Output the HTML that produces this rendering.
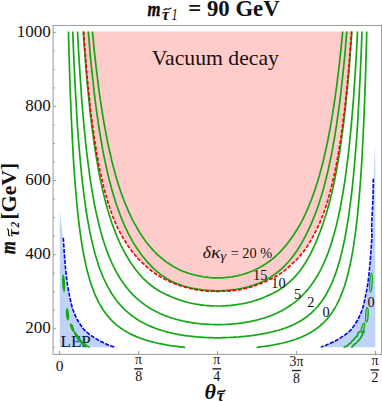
<!DOCTYPE html>
<html><head><meta charset="utf-8"><title>plot</title><style>html,body{margin:0;padding:0;background:#fff;width:382px;height:402px;overflow:hidden}body{position:relative;font-family:"Liberation Serif",serif}</style></head><body>
<svg width="382" height="402" viewBox="0 0 382 402" style="position:absolute;left:0;top:0;font-family:'Liberation Serif',serif">
<rect width="382" height="402" fill="#fff"/>
<path d="M83.6 31.5 L83.9 36.1 L84.3 41.5 L84.7 46.8 L85.1 51.9 L85.5 56.8 L85.8 61.6 L86.2 66.3 L86.6 70.8 L87.0 75.2 L87.4 79.4 L87.8 83.5 L88.2 87.5 L88.6 91.4 L89.0 95.2 L89.4 98.9 L89.7 102.5 L90.1 106.0 L90.5 109.4 L90.9 112.7 L91.3 115.9 L91.7 119.0 L92.1 122.1 L92.5 125.1 L92.9 128.0 L93.3 130.8 L93.7 133.6 L94.0 136.3 L94.4 138.9 L94.8 141.5 L95.2 144.0 L95.6 146.5 L96.0 148.9 L96.4 151.2 L96.8 153.5 L97.2 155.8 L97.6 158.0 L98.0 160.1 L98.3 162.2 L98.7 164.3 L99.1 166.3 L99.5 168.3 L99.9 170.2 L100.3 172.1 L100.7 174.0 L101.1 175.8 L101.5 177.6 L101.9 179.3 L102.3 181.0 L102.6 182.7 L103.0 184.3 L103.4 185.9 L103.8 187.5 L104.2 189.1 L104.6 190.6 L105.0 192.1 L105.4 193.5 L105.8 195.0 L106.2 196.3 L106.6 197.7 L106.9 199.0 L107.3 200.4 L107.7 201.6 L108.1 202.9 L108.5 204.2 L108.9 205.4 L109.3 206.6 L109.7 207.8 L110.1 208.9 L110.5 210.1 L110.9 211.2 L111.6 213.3 L112.4 215.5 L113.2 217.5 L114.0 219.5 L114.8 221.4 L115.5 223.2 L116.3 224.9 L117.1 226.6 L117.9 228.3 L118.7 229.9 L119.5 231.4 L120.2 232.9 L121.0 234.4 L121.8 235.8 L122.6 237.1 L123.4 238.5 L124.1 239.7 L124.9 241.0 L125.7 242.3 L126.5 243.5 L127.3 244.7 L128.0 245.9 L128.8 247.0 L129.6 248.1 L130.4 249.2 L131.2 250.3 L132.0 251.3 L132.7 252.3 L133.5 253.3 L134.3 254.2 L135.1 255.2 L135.9 256.1 L137.0 257.4 L138.2 258.7 L139.4 259.9 L140.6 261.1 L141.7 262.2 L142.9 263.3 L144.1 264.4 L145.2 265.4 L146.4 266.5 L147.6 267.6 L148.8 268.6 L149.9 269.6 L151.1 270.5 L152.3 271.5 L153.5 272.3 L154.6 273.2 L155.8 274.0 L157.0 274.8 L158.1 275.5 L159.3 276.2 L160.5 276.9 L161.7 277.6 L162.8 278.2 L164.0 278.8 L165.2 279.4 L166.3 280.0 L167.5 280.6 L168.7 281.1 L169.9 281.7 L171.0 282.2 L172.2 282.7 L173.4 283.2 L174.6 283.6 L175.7 284.1 L176.9 284.5 L178.1 284.9 L179.2 285.3 L180.4 285.7 L181.6 286.1 L182.8 286.5 L183.9 286.8 L185.1 287.2 L186.3 287.5 L187.5 287.8 L188.6 288.1 L190.2 288.5 L191.8 288.8 L193.3 289.2 L194.9 289.5 L196.4 289.8 L198.0 290.1 L199.6 290.3 L201.1 290.5 L202.7 290.7 L204.3 290.8 L205.8 291.0 L207.4 291.1 L208.9 291.2 L210.5 291.2 L212.1 291.3 L213.6 291.3 L215.2 291.4 L216.8 291.4 L217.5 291.4 L218.4 291.4 L220.0 291.4 L221.6 291.3 L223.2 291.3 L224.9 291.2 L226.5 291.2 L228.1 291.1 L229.7 291.0 L231.3 290.8 L233.0 290.7 L234.6 290.5 L236.2 290.3 L237.8 290.1 L239.5 289.8 L241.1 289.5 L242.7 289.2 L244.3 288.8 L245.9 288.5 L247.6 288.0 L248.8 287.7 L250.0 287.3 L251.2 286.9 L252.4 286.5 L253.6 286.1 L254.9 285.7 L256.1 285.3 L257.3 284.8 L258.5 284.4 L259.7 283.9 L260.9 283.4 L262.0 282.9 L263.2 282.5 L264.4 282.0 L265.6 281.5 L266.7 281.0 L267.9 280.4 L269.1 279.9 L270.3 279.3 L271.4 278.7 L272.6 278.1 L273.8 277.5 L274.9 276.9 L276.1 276.2 L277.3 275.5 L278.4 274.8 L279.6 274.1 L280.8 273.3 L281.9 272.5 L283.1 271.6 L284.2 270.8 L285.4 269.8 L286.5 268.9 L287.7 267.9 L288.8 266.9 L290.0 265.8 L291.1 264.7 L292.2 263.7 L293.4 262.7 L294.5 261.7 L295.6 260.6 L296.8 259.5 L297.9 258.3 L299.0 257.1 L300.1 255.8 L300.9 254.9 L301.6 254.0 L302.3 253.1 L303.1 252.2 L303.8 251.2 L304.6 250.2 L305.3 249.2 L306.0 248.1 L306.8 247.0 L307.5 245.9 L308.2 244.7 L309.0 243.5 L309.7 242.3 L310.4 241.0 L311.2 239.7 L311.9 238.5 L312.7 237.1 L313.4 235.8 L314.2 234.4 L314.9 232.9 L315.7 231.4 L316.4 229.9 L317.2 228.3 L318.0 226.6 L318.8 224.9 L319.6 223.2 L320.3 221.4 L321.1 219.5 L321.9 217.5 L322.7 215.5 L323.5 213.3 L324.2 211.2 L324.6 210.1 L325.0 208.9 L325.4 207.8 L325.8 206.6 L326.2 205.4 L326.6 204.2 L327.0 202.9 L327.4 201.6 L327.8 200.4 L328.2 199.0 L328.5 197.7 L328.9 196.3 L329.3 195.0 L329.7 193.5 L330.1 192.1 L330.5 190.6 L330.9 189.1 L331.3 187.5 L331.7 185.9 L332.1 184.3 L332.5 182.7 L332.8 181.0 L333.2 179.3 L333.6 177.6 L334.0 175.8 L334.4 174.0 L334.8 172.1 L335.2 170.2 L335.6 168.3 L336.0 166.3 L336.4 164.3 L336.8 162.2 L337.1 160.1 L337.5 158.0 L337.9 155.8 L338.3 153.5 L338.7 151.2 L339.1 148.9 L339.5 146.5 L339.9 144.0 L340.3 141.5 L340.7 138.9 L341.1 136.3 L341.4 133.6 L341.8 130.8 L342.2 128.0 L342.6 125.1 L343.0 122.1 L343.4 119.0 L343.8 115.9 L344.2 112.7 L344.6 109.4 L345.0 106.0 L345.4 102.5 L345.7 98.9 L346.1 95.2 L346.5 91.4 L346.9 87.5 L347.3 83.5 L347.7 79.4 L348.1 75.2 L348.5 70.8 L348.9 66.3 L349.3 61.6 L349.6 56.8 L350.0 51.9 L350.4 46.8 L350.8 41.5 L351.2 36.1 L351.5 31.5 Z" fill="#ffcccc"/>
<path d="M59.8 347.3 L59.8 211.0 L61.0 222.0 L62.3 232.0 L62.7 237.8 L63.8 255.0 L65.1 270.0 L66.9 285.0 L69.4 298.0 L72.5 310.1 L77.2 320.5 L83.1 329.2 L88.2 333.8 L93.7 337.6 L98.9 340.8 L104.2 343.3 L108.9 345.4 L113.7 347.1 L121.0 347.3 Z" fill="#bed2fa"/>
<path d="M375.3 347.3 L375.3 160.0 L374.8 143.5 L374.4 160.0 L373.9 178.7 L373.7 195.0 L373.0 210.0 L372.3 225.0 L372.4 237.8 L371.3 255.0 L370.0 270.0 L368.2 285.0 L365.7 298.0 L362.6 310.1 L357.9 320.5 L352.0 329.2 L346.9 333.8 L341.4 337.6 L336.2 340.8 L330.9 343.3 L326.2 345.4 L321.4 347.1 L314.0 347.3 Z" fill="#bed2fa"/>
<text x="60.6" y="346.6" font-size="17" fill="#0c1444">LEP</text>
<path d="M68.5 31.5 L68.6 38.2 L69.0 52.7 L69.4 66.0 L69.8 78.3 L70.2 89.7 L70.6 100.2 L71.0 110.1 L71.4 119.3 L71.8 127.8 L72.2 135.9 L72.6 143.4 L72.9 150.5 L73.3 157.2 L73.7 163.6 L74.1 169.5 L74.5 175.2 L74.9 180.6 L75.3 185.6 L75.7 190.5 L76.1 195.1 L76.5 199.5 L76.9 203.7 L77.2 207.7 L77.6 211.5 L78.0 215.1 L78.4 218.6 L78.8 222.0 L79.2 225.2 L79.6 228.3 L80.0 231.3 L80.4 234.1 L80.8 236.8 L81.2 239.5 L81.5 242.0 L81.9 244.5 L82.3 246.8 L82.7 249.1 L83.1 251.3 L83.5 253.5 L83.9 255.5 L84.3 257.5 L84.7 259.4 L85.1 261.3 L85.5 263.1 L85.8 264.9 L86.2 266.6 L86.6 268.2 L87.0 269.8 L87.4 271.4 L87.8 272.9 L88.2 274.3 L88.6 275.7 L89.0 277.1 L89.4 278.5 L89.7 279.8 L90.1 281.0 L90.5 282.3 L90.9 283.5 L91.3 284.7 L91.7 285.8 L92.5 288.0 L93.3 290.1 L94.0 292.1 L94.8 294.0 L95.6 295.8 L96.4 297.6 L97.2 299.2 L98.0 300.8 L98.7 302.3 L99.5 303.8 L100.3 305.2 L101.1 306.5 L101.9 307.8 L102.6 309.0 L103.4 310.2 L104.2 311.3 L105.0 312.4 L105.8 313.5 L106.6 314.5 L107.3 315.5 L108.1 316.4 L108.9 317.4 L110.1 318.7 L111.2 319.9 L112.4 321.1 L113.6 322.2 L114.8 323.3 L115.9 324.3 L117.1 325.3 L118.3 326.3 L119.5 327.1 L120.6 328.0 L121.8 328.8 L123.0 329.6 L124.1 330.4 L125.3 331.1 L126.5 331.8 L127.7 332.4 L128.8 333.1 L130.0 333.7 L131.2 334.3 L132.3 334.9 L133.5 335.4 L134.7 335.9 L135.9 336.4 L137.0 336.9 L138.2 337.4 L139.4 337.8 L140.6 338.3 L141.7 338.7 L142.9 339.1 L144.1 339.5 L145.2 339.9 L146.4 340.2 L147.6 340.6 L148.8 340.9 L149.9 341.3 L151.1 341.6 L152.3 341.9 L153.5 342.2 L154.6 342.5 L155.8 342.8 L157.0 343.0 L158.1 343.3 L159.7 343.6 L161.3 343.9 L162.8 344.2 L164.4 344.5 L166.0 344.8 L167.5 345.1 L169.1 345.3 L170.6 345.6 L172.2 345.8 L173.8 346.0 L175.3 346.2 L176.9 346.4 L178.5 346.6 L180.0 346.8 L181.6 346.9 L183.2 347.1 L184.7 347.3 L185.1 347.3" fill="none" stroke="#13a813" stroke-width="1.7" stroke-linejoin="round"/>
<path d="M256.6 347.3 L257.0 347.3 L258.6 347.1 L260.2 346.9 L261.7 346.7 L263.3 346.5 L264.8 346.3 L266.4 346.1 L268.0 345.8 L269.5 345.6 L271.1 345.3 L272.7 345.1 L274.2 344.8 L275.8 344.5 L277.4 344.2 L278.9 343.9 L280.5 343.5 L281.6 343.3 L282.8 343.0 L284.0 342.7 L285.2 342.4 L286.3 342.1 L287.5 341.8 L288.7 341.5 L289.9 341.1 L291.0 340.8 L292.2 340.4 L293.4 340.0 L294.5 339.7 L295.7 339.2 L296.9 338.8 L298.1 338.4 L299.2 337.9 L300.4 337.5 L301.6 337.0 L302.8 336.5 L303.9 335.9 L305.1 335.4 L306.3 334.8 L307.4 334.2 L308.6 333.6 L309.8 332.9 L311.0 332.3 L312.1 331.5 L313.3 330.8 L314.5 330.0 L315.6 329.2 L316.8 328.4 L318.0 327.5 L319.2 326.6 L320.3 325.6 L321.5 324.5 L322.7 323.5 L323.9 322.3 L325.0 321.1 L326.2 319.9 L327.4 318.6 L328.2 317.6 L328.9 316.7 L329.7 315.7 L330.5 314.6 L331.3 313.5 L332.1 312.4 L332.8 311.3 L333.6 310.0 L334.4 308.8 L335.2 307.4 L336.0 306.1 L336.8 304.6 L337.5 303.1 L338.3 301.5 L339.1 299.9 L339.9 298.2 L340.7 296.3 L341.4 294.4 L342.2 292.4 L343.0 290.3 L343.8 288.1 L344.2 287.0 L344.6 285.8 L345.0 284.5 L345.4 283.3 L345.7 282.0 L346.1 280.7 L346.5 279.3 L346.9 277.9 L347.3 276.5 L347.7 275.0 L348.1 273.5 L348.5 271.9 L348.9 270.2 L349.3 268.6 L349.6 266.8 L350.0 265.0 L350.4 263.2 L350.8 261.3 L351.2 259.3 L351.6 257.3 L352.0 255.2 L352.4 253.0 L352.8 250.7 L353.2 248.3 L353.6 245.9 L353.9 243.4 L354.3 240.8 L354.7 238.0 L355.1 235.2 L355.5 232.2 L355.9 229.1 L356.3 225.9 L356.7 222.6 L357.1 219.1 L357.5 215.4 L357.9 211.6 L358.2 207.6 L358.6 203.4 L359.0 199.1 L359.4 194.4 L359.8 189.6 L360.2 184.5 L360.6 179.1 L361.0 173.5 L361.4 167.5 L361.8 161.1 L362.2 154.4 L362.5 147.3 L362.9 139.7 L363.3 131.6 L363.7 123.0 L364.1 113.8 L364.5 103.9 L364.9 93.3 L365.3 81.8 L365.7 69.4 L366.1 56.0 L366.5 41.4 L366.7 31.5" fill="none" stroke="#13a813" stroke-width="1.7" stroke-linejoin="round"/>
<path d="M72.8 31.5 L72.9 36.3 L73.3 46.4 L73.7 55.8 L74.1 64.8 L74.5 73.3 L74.9 81.4 L75.3 89.0 L75.7 96.3 L76.1 103.2 L76.5 109.8 L76.9 116.1 L77.2 122.1 L77.6 127.9 L78.0 133.4 L78.4 138.6 L78.8 143.7 L79.2 148.5 L79.6 153.2 L80.0 157.7 L80.4 162.0 L80.8 166.1 L81.2 170.1 L81.5 173.9 L81.9 177.6 L82.3 181.2 L82.7 184.7 L83.1 188.0 L83.5 191.2 L83.9 194.3 L84.3 197.4 L84.7 200.3 L85.1 203.1 L85.5 205.8 L85.8 208.5 L86.2 211.1 L86.6 213.6 L87.0 216.0 L87.4 218.4 L87.8 220.7 L88.2 222.9 L88.6 225.0 L89.0 227.1 L89.4 229.2 L89.7 231.2 L90.1 233.1 L90.5 235.0 L90.9 236.9 L91.3 238.6 L91.7 240.4 L92.1 242.1 L92.5 243.8 L92.9 245.4 L93.3 247.0 L93.7 248.5 L94.0 250.0 L94.4 251.5 L94.8 252.9 L95.2 254.3 L95.6 255.7 L96.0 257.0 L96.4 258.3 L96.8 259.6 L97.2 260.9 L97.6 262.1 L98.0 263.3 L98.3 264.5 L98.7 265.6 L99.5 267.9 L100.3 270.0 L101.1 272.1 L101.9 274.0 L102.6 275.9 L103.4 277.8 L104.2 279.5 L105.0 281.2 L105.8 282.9 L106.6 284.4 L107.3 285.9 L108.1 287.4 L108.9 288.8 L109.7 290.2 L110.5 291.5 L111.2 292.8 L112.0 294.0 L112.8 295.2 L113.6 296.4 L114.4 297.5 L115.2 298.6 L115.9 299.7 L116.7 300.7 L117.5 301.7 L118.3 302.6 L119.1 303.6 L120.2 304.9 L121.4 306.2 L122.6 307.5 L123.7 308.6 L124.9 309.8 L126.1 310.9 L127.3 311.9 L128.4 312.9 L129.6 313.9 L130.8 314.8 L132.0 315.7 L133.1 316.6 L134.3 317.4 L135.5 318.2 L136.6 319.0 L137.8 319.8 L139.0 320.5 L140.2 321.2 L141.3 321.8 L142.5 322.5 L143.7 323.1 L144.9 323.7 L146.0 324.3 L147.2 324.8 L148.4 325.4 L149.5 325.9 L150.7 326.4 L151.9 326.9 L153.1 327.4 L154.2 327.8 L155.4 328.3 L156.6 328.7 L157.7 329.1 L158.9 329.5 L160.1 329.9 L161.3 330.3 L162.4 330.6 L163.6 331.0 L164.8 331.3 L166.0 331.6 L167.1 331.9 L168.3 332.2 L169.5 332.5 L170.6 332.8 L171.8 333.1 L173.0 333.3 L174.6 333.7 L176.1 334.0 L177.7 334.3 L179.2 334.6 L180.8 334.9 L182.4 335.1 L183.9 335.4 L185.5 335.6 L187.1 335.8 L188.6 336.0 L190.2 336.2 L191.8 336.4 L193.3 336.6 L194.9 336.7 L196.4 336.9 L198.0 337.0 L199.6 337.1 L201.1 337.2 L202.7 337.4 L204.3 337.4 L205.8 337.5 L207.4 337.6 L208.9 337.7 L210.5 337.7 L212.1 337.7 L213.6 337.8 L215.2 337.8 L216.8 337.8 L217.5 337.8 L218.7 337.8 L220.3 337.8 L221.9 337.7 L223.4 337.7 L225.0 337.7 L226.5 337.6 L228.1 337.5 L229.7 337.5 L231.2 337.4 L232.8 337.3 L234.4 337.2 L235.9 337.1 L237.5 337.0 L239.1 336.9 L240.6 336.7 L242.2 336.6 L243.7 336.5 L245.3 336.3 L246.9 336.1 L248.4 336.0 L250.0 335.8 L251.6 335.6 L253.1 335.4 L254.7 335.2 L256.2 334.9 L257.8 334.7 L259.4 334.5 L260.9 334.2 L262.5 333.9 L264.1 333.6 L265.6 333.3 L267.2 333.0 L268.8 332.7 L270.3 332.3 L271.5 332.0 L272.7 331.7 L273.8 331.4 L275.0 331.1 L276.2 330.8 L277.4 330.5 L278.5 330.2 L279.7 329.8 L280.9 329.5 L282.0 329.1 L283.2 328.7 L284.4 328.3 L285.6 327.9 L286.7 327.5 L287.9 327.0 L289.1 326.5 L290.2 326.1 L291.4 325.6 L292.6 325.0 L293.8 324.5 L294.9 323.9 L296.1 323.3 L297.3 322.7 L298.5 322.1 L299.6 321.4 L300.8 320.7 L302.0 320.0 L303.1 319.3 L304.3 318.5 L305.5 317.6 L306.7 316.8 L307.8 315.9 L309.0 314.9 L310.2 314.0 L311.4 312.9 L312.5 311.9 L313.7 310.7 L314.9 309.5 L316.0 308.3 L317.2 307.0 L318.0 306.1 L318.8 305.1 L319.6 304.1 L320.3 303.1 L321.1 302.1 L321.9 301.0 L322.7 299.9 L323.5 298.7 L324.2 297.5 L325.0 296.3 L325.8 295.0 L326.6 293.6 L327.4 292.2 L328.2 290.7 L328.9 289.2 L329.7 287.7 L330.5 286.0 L331.3 284.3 L332.1 282.5 L332.8 280.7 L333.6 278.7 L334.4 276.7 L335.2 274.6 L336.0 272.4 L336.4 271.2 L336.8 270.1 L337.1 268.9 L337.5 267.7 L337.9 266.4 L338.3 265.1 L338.7 263.8 L339.1 262.5 L339.5 261.1 L339.9 259.7 L340.3 258.2 L340.7 256.7 L341.1 255.2 L341.4 253.7 L341.8 252.1 L342.2 250.4 L342.6 248.7 L343.0 247.0 L343.4 245.2 L343.8 243.4 L344.2 241.5 L344.6 239.6 L345.0 237.6 L345.4 235.6 L345.7 233.5 L346.1 231.4 L346.5 229.2 L346.9 226.9 L347.3 224.5 L347.7 222.1 L348.1 219.6 L348.5 217.1 L348.9 214.4 L349.3 211.7 L349.6 208.8 L350.0 205.9 L350.4 202.9 L350.8 199.8 L351.2 196.6 L351.6 193.3 L352.0 189.8 L352.4 186.3 L352.8 182.6 L353.2 178.7 L353.6 174.7 L353.9 170.6 L354.3 166.3 L354.7 161.9 L355.1 157.3 L355.5 152.4 L355.9 147.4 L356.3 142.2 L356.7 136.7 L357.1 131.0 L357.5 125.1 L357.9 118.9 L358.2 112.4 L358.6 105.6 L359.0 98.4 L359.4 90.9 L359.8 83.0 L360.2 74.7 L360.6 66.0 L361.0 56.7 L361.4 47.0 L361.8 36.7 L361.9 31.5" fill="none" stroke="#13a813" stroke-width="1.7" stroke-linejoin="round"/>
<path d="M77.6 31.5 L77.6 32.9 L78.0 40.5 L78.4 47.8 L78.8 54.8 L79.2 61.5 L79.6 67.9 L80.0 74.1 L80.4 80.1 L80.8 85.8 L81.2 91.3 L81.5 96.6 L81.9 101.7 L82.3 106.7 L82.7 111.5 L83.1 116.1 L83.5 120.5 L83.9 124.8 L84.3 129.0 L84.7 133.1 L85.1 137.0 L85.5 140.8 L85.8 144.5 L86.2 148.0 L86.6 151.5 L87.0 154.8 L87.4 158.1 L87.8 161.3 L88.2 164.4 L88.6 167.4 L89.0 170.3 L89.4 173.1 L89.7 175.9 L90.1 178.6 L90.5 181.2 L90.9 183.7 L91.3 186.2 L91.7 188.7 L92.1 191.0 L92.5 193.3 L92.9 195.6 L93.3 197.8 L93.7 199.9 L94.0 202.0 L94.4 204.1 L94.8 206.1 L95.2 208.0 L95.6 209.9 L96.0 211.8 L96.4 213.6 L96.8 215.4 L97.2 217.1 L97.6 218.8 L98.0 220.5 L98.3 222.1 L98.7 223.7 L99.1 225.3 L99.5 226.9 L99.9 228.4 L100.3 229.8 L100.7 231.3 L101.1 232.7 L101.5 234.1 L101.9 235.4 L102.3 236.8 L102.6 238.1 L103.0 239.4 L103.4 240.6 L103.8 241.9 L104.2 243.1 L104.6 244.3 L105.0 245.4 L105.4 246.6 L106.2 248.8 L106.9 251.0 L107.7 253.1 L108.5 255.1 L109.3 257.0 L110.1 258.9 L110.9 260.7 L111.6 262.5 L112.4 264.2 L113.2 265.8 L114.0 267.4 L114.8 268.9 L115.5 270.4 L116.3 271.9 L117.1 273.3 L117.9 274.7 L118.7 276.0 L119.5 277.3 L120.2 278.5 L121.0 279.8 L121.8 280.9 L122.6 282.1 L123.4 283.2 L124.1 284.3 L124.9 285.3 L125.7 286.4 L126.5 287.4 L127.3 288.3 L128.0 289.3 L128.8 290.2 L130.0 291.6 L131.2 292.9 L132.3 294.1 L133.5 295.3 L134.7 296.4 L135.9 297.6 L137.0 298.6 L138.2 299.7 L139.4 300.7 L140.6 301.6 L141.7 302.5 L142.9 303.4 L144.1 304.3 L145.2 305.1 L146.4 305.9 L147.6 306.7 L148.8 307.5 L149.9 308.2 L151.1 308.9 L152.3 309.6 L153.5 310.2 L154.6 310.8 L155.8 311.5 L157.0 312.0 L158.1 312.6 L159.3 313.2 L160.5 313.7 L161.7 314.2 L162.8 314.7 L164.0 315.2 L165.2 315.7 L166.3 316.1 L167.5 316.5 L168.7 317.0 L169.9 317.4 L171.0 317.8 L172.2 318.1 L173.4 318.5 L174.6 318.8 L175.7 319.2 L176.9 319.5 L178.1 319.8 L179.2 320.1 L180.4 320.4 L181.6 320.7 L182.8 321.0 L183.9 321.2 L185.5 321.5 L187.1 321.8 L188.6 322.1 L190.2 322.4 L191.8 322.7 L193.3 322.9 L194.9 323.1 L196.4 323.3 L198.0 323.5 L199.6 323.7 L201.1 323.8 L202.7 324.0 L204.3 324.1 L205.8 324.2 L207.4 324.3 L208.9 324.4 L210.5 324.5 L212.1 324.5 L213.6 324.6 L215.2 324.6 L216.8 324.6 L217.5 324.6 L218.7 324.6 L220.3 324.6 L221.9 324.6 L223.4 324.5 L225.0 324.5 L226.5 324.4 L228.1 324.3 L229.7 324.2 L231.2 324.1 L232.8 324.0 L234.4 323.8 L235.9 323.7 L237.5 323.5 L239.1 323.3 L240.6 323.1 L242.2 322.9 L243.7 322.6 L245.3 322.4 L246.9 322.1 L248.4 321.8 L250.0 321.6 L251.6 321.2 L253.1 320.9 L254.3 320.6 L255.5 320.4 L256.6 320.1 L257.8 319.8 L259.0 319.5 L260.2 319.1 L261.3 318.8 L262.5 318.5 L263.7 318.1 L264.8 317.7 L266.0 317.4 L267.2 317.0 L268.4 316.5 L269.5 316.1 L270.7 315.7 L271.9 315.2 L273.1 314.7 L274.2 314.3 L275.4 313.7 L276.6 313.2 L277.7 312.7 L278.9 312.1 L280.1 311.5 L281.3 310.9 L282.4 310.3 L283.6 309.7 L284.8 309.0 L285.9 308.3 L287.1 307.6 L288.3 306.8 L289.5 306.1 L290.6 305.3 L291.8 304.4 L293.0 303.6 L294.2 302.7 L295.3 301.8 L296.5 300.8 L297.7 299.8 L298.8 298.8 L300.0 297.7 L301.2 296.6 L302.4 295.5 L303.5 294.3 L304.7 293.0 L305.9 291.7 L307.1 290.4 L307.8 289.5 L308.6 288.5 L309.4 287.5 L310.2 286.5 L311.0 285.5 L311.7 284.4 L312.5 283.3 L313.3 282.2 L314.1 281.0 L314.9 279.8 L315.6 278.6 L316.4 277.3 L317.2 276.0 L318.0 274.6 L318.8 273.2 L319.6 271.8 L320.3 270.3 L321.1 268.8 L321.9 267.2 L322.7 265.6 L323.5 263.9 L324.2 262.2 L325.0 260.4 L325.8 258.5 L326.6 256.6 L327.4 254.6 L328.2 252.5 L328.9 250.4 L329.7 248.1 L330.1 247.0 L330.5 245.8 L330.9 244.6 L331.3 243.4 L331.7 242.2 L332.1 240.9 L332.5 239.6 L332.8 238.3 L333.2 237.0 L333.6 235.6 L334.0 234.3 L334.4 232.8 L334.8 231.4 L335.2 229.9 L335.6 228.4 L336.0 226.9 L336.4 225.3 L336.8 223.7 L337.1 222.1 L337.5 220.4 L337.9 218.7 L338.3 216.9 L338.7 215.2 L339.1 213.3 L339.5 211.5 L339.9 209.5 L340.3 207.6 L340.7 205.6 L341.1 203.5 L341.4 201.4 L341.8 199.3 L342.2 197.1 L342.6 194.8 L343.0 192.5 L343.4 190.1 L343.8 187.7 L344.2 185.2 L344.6 182.6 L345.0 180.0 L345.4 177.3 L345.7 174.5 L346.1 171.7 L346.5 168.7 L346.9 165.7 L347.3 162.6 L347.7 159.4 L348.1 156.1 L348.5 152.7 L348.9 149.2 L349.3 145.6 L349.6 141.9 L350.0 138.1 L350.4 134.2 L350.8 130.1 L351.2 125.9 L351.6 121.5 L352.0 117.0 L352.4 112.4 L352.8 107.5 L353.2 102.6 L353.6 97.4 L353.9 92.0 L354.3 86.5 L354.7 80.7 L355.1 74.7 L355.5 68.4 L355.9 61.9 L356.3 55.2 L356.7 48.1 L357.1 40.7 L357.5 33.1 L357.5 31.5" fill="none" stroke="#13a813" stroke-width="1.7" stroke-linejoin="round"/>
<path d="M83.2 31.5 L83.5 35.2 L83.9 40.9 L84.3 46.3 L84.7 51.6 L85.1 56.8 L85.5 61.8 L85.8 66.6 L86.2 71.3 L86.6 75.8 L87.0 80.3 L87.4 84.6 L87.8 88.7 L88.2 92.8 L88.6 96.7 L89.0 100.6 L89.4 104.3 L89.7 107.9 L90.1 111.5 L90.5 114.9 L90.9 118.3 L91.3 121.5 L91.7 124.7 L92.1 127.9 L92.5 130.9 L92.9 133.9 L93.3 136.8 L93.7 139.6 L94.0 142.3 L94.4 145.0 L94.8 147.7 L95.2 150.2 L95.6 152.8 L96.0 155.2 L96.4 157.6 L96.8 160.0 L97.2 162.3 L97.6 164.5 L98.0 166.7 L98.3 168.9 L98.7 171.0 L99.1 173.1 L99.5 175.1 L99.9 177.1 L100.3 179.1 L100.7 181.0 L101.1 182.9 L101.5 184.7 L101.9 186.5 L102.3 188.3 L102.6 190.0 L103.0 191.7 L103.4 193.4 L103.8 195.0 L104.2 196.6 L104.6 198.2 L105.0 199.7 L105.4 201.3 L105.8 202.8 L106.2 204.2 L106.6 205.7 L106.9 207.1 L107.3 208.5 L107.7 209.8 L108.1 211.2 L108.5 212.5 L108.9 213.8 L109.3 215.1 L109.7 216.3 L110.1 217.6 L110.5 218.8 L110.9 220.0 L111.2 221.2 L111.6 222.3 L112.0 223.5 L112.8 225.7 L113.6 227.9 L114.4 229.9 L115.2 232.0 L115.9 233.9 L116.7 235.8 L117.5 237.7 L118.3 239.5 L119.1 241.2 L119.8 242.9 L120.6 244.6 L121.4 246.2 L122.2 247.7 L123.0 249.3 L123.7 250.7 L124.5 252.2 L125.3 253.6 L126.1 255.0 L126.9 256.3 L127.7 257.7 L128.4 259.0 L129.2 260.2 L130.0 261.5 L130.8 262.7 L131.6 263.9 L132.3 265.0 L133.1 266.1 L133.9 267.2 L134.7 268.3 L135.5 269.3 L136.3 270.4 L137.0 271.3 L137.8 272.3 L139.0 273.7 L140.2 275.1 L141.3 276.4 L142.5 277.6 L143.7 278.8 L144.9 279.9 L146.0 281.0 L147.2 282.1 L148.4 283.1 L149.5 284.1 L150.7 285.0 L151.9 286.0 L153.1 286.9 L154.2 287.7 L155.4 288.6 L156.6 289.3 L157.7 290.0 L158.9 290.7 L160.1 291.4 L161.3 292.0 L162.4 292.7 L163.6 293.3 L164.8 293.8 L166.0 294.4 L167.1 294.9 L168.3 295.4 L169.5 295.9 L170.6 296.4 L171.8 297.0 L173.0 297.5 L174.2 298.0 L175.3 298.4 L176.5 298.9 L177.7 299.3 L178.9 299.7 L180.0 300.1 L181.2 300.5 L182.4 300.9 L183.5 301.2 L184.7 301.6 L185.9 301.9 L187.1 302.2 L188.2 302.5 L189.4 302.8 L190.6 303.1 L191.8 303.3 L193.3 303.7 L194.9 304.0 L196.4 304.2 L198.0 304.5 L199.6 304.7 L201.1 304.9 L202.7 305.1 L204.3 305.3 L205.8 305.5 L207.4 305.6 L208.9 305.7 L210.5 305.8 L212.1 305.9 L213.6 306.0 L215.2 306.0 L216.8 306.0 L217.5 306.0 L218.4 306.0 L220.0 306.0 L221.6 306.0 L223.2 305.9 L224.9 305.8 L226.5 305.7 L228.1 305.6 L229.7 305.5 L231.3 305.3 L233.0 305.1 L234.6 304.9 L236.2 304.7 L237.8 304.5 L239.5 304.2 L241.1 304.0 L242.7 303.7 L244.3 303.3 L245.5 303.1 L246.8 302.8 L248.0 302.5 L249.2 302.2 L250.4 301.9 L251.6 301.6 L252.8 301.2 L254.0 300.9 L255.3 300.5 L256.5 300.1 L257.7 299.7 L258.9 299.3 L260.1 298.9 L261.3 298.4 L262.4 298.0 L263.6 297.5 L264.8 297.0 L266.0 296.4 L267.1 295.9 L268.3 295.4 L269.5 294.9 L270.6 294.4 L271.8 293.8 L273.0 293.3 L274.2 292.7 L275.3 292.0 L276.5 291.4 L277.7 290.7 L278.9 290.0 L280.0 289.3 L281.2 288.6 L282.4 287.7 L283.5 286.9 L284.7 286.0 L285.9 285.0 L287.1 284.1 L288.2 283.1 L289.4 282.1 L290.6 281.0 L291.7 279.9 L292.9 278.8 L294.1 277.6 L295.3 276.4 L296.4 275.1 L297.6 273.7 L298.7 272.3 L299.5 271.3 L300.3 270.4 L301.0 269.3 L301.8 268.3 L302.5 267.2 L303.3 266.1 L304.0 265.0 L304.7 263.9 L305.5 262.7 L306.2 261.5 L306.9 260.2 L307.7 259.0 L308.4 257.7 L309.1 256.3 L309.8 255.0 L310.6 253.6 L311.3 252.2 L312.0 250.7 L312.7 249.3 L313.4 247.7 L314.1 246.2 L314.9 244.6 L315.6 242.9 L316.3 241.2 L317.0 239.5 L317.8 237.7 L318.5 235.8 L319.2 233.9 L320.0 232.0 L320.7 229.9 L321.5 227.9 L322.3 225.7 L323.1 223.5 L323.5 222.3 L323.9 221.2 L324.2 220.0 L324.6 218.8 L325.0 217.6 L325.4 216.3 L325.8 215.1 L326.2 213.8 L326.6 212.5 L327.0 211.2 L327.4 209.8 L327.8 208.5 L328.2 207.1 L328.5 205.7 L328.9 204.2 L329.3 202.8 L329.7 201.3 L330.1 199.7 L330.5 198.2 L330.9 196.6 L331.3 195.0 L331.7 193.4 L332.1 191.7 L332.5 190.0 L332.8 188.3 L333.2 186.5 L333.6 184.7 L334.0 182.9 L334.4 181.0 L334.8 179.1 L335.2 177.1 L335.6 175.1 L336.0 173.1 L336.4 171.0 L336.8 168.9 L337.1 166.7 L337.5 164.5 L337.9 162.3 L338.3 160.0 L338.7 157.6 L339.1 155.2 L339.5 152.8 L339.9 150.2 L340.3 147.7 L340.7 145.0 L341.1 142.3 L341.4 139.6 L341.8 136.8 L342.2 133.9 L342.6 130.9 L343.0 127.9 L343.4 124.7 L343.8 121.5 L344.2 118.3 L344.6 114.9 L345.0 111.5 L345.4 107.9 L345.7 104.3 L346.1 100.6 L346.5 96.7 L346.9 92.8 L347.3 88.7 L347.7 84.6 L348.1 80.3 L348.5 75.8 L348.9 71.3 L349.3 66.6 L349.6 61.8 L350.0 56.8 L350.4 51.6 L350.8 46.3 L351.2 40.9 L351.6 35.2 L351.9 31.5" fill="none" stroke="#13a813" stroke-width="1.7" stroke-linejoin="round"/>
<path d="M88.3 31.5 L88.6 35.1 L89.0 39.8 L89.4 44.4 L89.7 48.8 L90.1 53.2 L90.5 57.4 L90.9 61.5 L91.3 65.5 L91.7 69.4 L92.1 73.2 L92.5 76.9 L92.9 80.5 L93.3 84.1 L93.7 87.5 L94.0 90.9 L94.4 94.2 L94.8 97.4 L95.2 100.6 L95.6 103.7 L96.0 106.7 L96.4 109.6 L96.8 112.5 L97.2 115.3 L97.6 118.1 L98.0 120.8 L98.3 123.4 L98.7 126.0 L99.1 128.5 L99.5 131.0 L99.9 133.4 L100.3 135.8 L100.7 138.2 L101.1 140.5 L101.5 142.7 L101.9 144.9 L102.3 147.1 L102.6 149.2 L103.0 151.3 L103.4 153.3 L103.8 155.3 L104.2 157.3 L104.6 159.2 L105.0 161.1 L105.4 163.0 L105.8 164.8 L106.2 166.6 L106.6 168.3 L106.9 170.1 L107.3 171.8 L107.7 173.5 L108.1 175.1 L108.5 176.7 L108.9 178.3 L109.3 179.9 L109.7 181.4 L110.1 182.9 L110.5 184.4 L110.9 185.9 L111.2 187.3 L111.6 188.7 L112.0 190.1 L112.4 191.5 L112.8 192.9 L113.2 194.2 L113.6 195.5 L114.0 196.8 L114.4 198.1 L114.8 199.3 L115.2 200.6 L115.5 201.8 L115.9 203.0 L116.3 204.2 L116.7 205.3 L117.1 206.5 L117.9 208.7 L118.7 210.9 L119.5 213.0 L120.2 215.1 L121.0 217.1 L121.8 219.1 L122.6 221.0 L123.4 222.8 L124.1 224.6 L124.9 226.3 L125.7 228.0 L126.5 229.7 L127.3 231.3 L128.0 232.9 L128.8 234.4 L129.6 235.9 L130.4 237.4 L131.2 238.8 L132.0 240.2 L132.7 241.6 L133.5 242.9 L134.3 244.2 L135.1 245.4 L135.9 246.7 L136.6 247.9 L137.4 249.1 L138.2 250.2 L139.0 251.3 L139.8 252.4 L140.6 253.5 L141.3 254.5 L142.1 255.6 L142.9 256.6 L143.7 257.5 L144.5 258.5 L145.6 259.9 L146.8 261.3 L148.0 262.6 L149.2 263.9 L150.3 265.2 L151.5 266.4 L152.7 267.6 L153.8 268.7 L155.0 269.7 L156.2 270.8 L157.4 271.8 L158.5 272.7 L159.7 273.7 L160.9 274.6 L162.0 275.4 L163.2 276.2 L164.4 277.0 L165.6 277.8 L166.7 278.6 L167.9 279.3 L169.1 280.0 L170.3 280.6 L171.4 281.2 L172.6 281.7 L173.8 282.3 L174.9 282.8 L176.1 283.3 L177.3 283.8 L178.5 284.2 L179.6 284.6 L180.8 285.1 L182.0 285.5 L183.2 285.8 L184.3 286.2 L185.5 286.5 L186.7 286.9 L187.8 287.2 L189.0 287.5 L190.2 287.7 L191.4 288.0 L192.5 288.3 L193.7 288.5 L194.9 288.7 L196.0 288.9 L197.6 289.2 L199.2 289.4 L200.7 289.6 L202.3 289.8 L203.9 290.0 L205.4 290.1 L207.0 290.3 L208.6 290.4 L210.1 290.5 L211.7 290.6 L213.2 290.7 L214.8 290.8 L216.4 290.8 L217.5 290.8 L218.8 290.8 L220.4 290.8 L222.0 290.7 L223.6 290.6 L225.3 290.5 L226.9 290.4 L228.5 290.3 L230.1 290.1 L231.7 289.9 L233.4 289.7 L235.0 289.5 L236.6 289.3 L238.2 289.0 L239.9 288.7 L241.1 288.5 L242.3 288.2 L243.5 287.9 L244.7 287.7 L245.9 287.4 L247.2 287.1 L248.4 286.7 L249.6 286.4 L250.8 286.0 L252.0 285.6 L253.2 285.2 L254.5 284.8 L255.7 284.4 L256.9 283.9 L258.1 283.5 L259.3 283.0 L260.5 282.5 L261.7 281.9 L262.8 281.4 L264.0 280.8 L265.2 280.2 L266.3 279.6 L267.5 279.0 L268.7 278.3 L269.9 277.6 L271.0 276.8 L272.2 276.1 L273.4 275.3 L274.5 274.4 L275.7 273.6 L276.8 272.7 L278.0 271.8 L279.2 270.9 L280.3 269.9 L281.5 268.9 L282.6 267.8 L283.7 266.7 L284.9 265.6 L286.0 264.4 L287.1 263.2 L288.3 262.0 L289.4 260.7 L290.5 259.3 L291.6 258.0 L292.3 257.0 L293.1 256.0 L293.8 255.1 L294.6 254.1 L295.3 253.0 L296.0 252.0 L296.8 250.9 L297.5 249.8 L298.2 248.7 L299.0 247.5 L299.7 246.3 L300.4 245.1 L301.2 243.8 L301.9 242.6 L302.6 241.3 L303.4 239.9 L304.1 238.5 L304.8 237.1 L305.6 235.7 L306.3 234.2 L307.1 232.7 L307.8 231.1 L308.6 229.5 L309.4 227.8 L310.2 226.2 L311.0 224.4 L311.7 222.6 L312.5 220.8 L313.3 218.9 L314.1 217.0 L314.9 215.0 L315.6 212.9 L316.4 210.8 L317.2 208.7 L318.0 206.4 L318.4 205.3 L318.8 204.1 L319.2 202.9 L319.6 201.7 L319.9 200.5 L320.3 199.3 L320.7 198.1 L321.1 196.8 L321.5 195.5 L321.9 194.2 L322.3 192.8 L322.7 191.5 L323.1 190.1 L323.5 188.7 L323.9 187.3 L324.2 185.9 L324.6 184.4 L325.0 182.9 L325.4 181.4 L325.8 179.9 L326.2 178.3 L326.6 176.7 L327.0 175.1 L327.4 173.5 L327.8 171.8 L328.2 170.1 L328.5 168.3 L328.9 166.6 L329.3 164.8 L329.7 163.0 L330.1 161.1 L330.5 159.2 L330.9 157.3 L331.3 155.3 L331.7 153.3 L332.1 151.3 L332.5 149.2 L332.8 147.1 L333.2 144.9 L333.6 142.7 L334.0 140.5 L334.4 138.2 L334.8 135.8 L335.2 133.4 L335.6 131.0 L336.0 128.5 L336.4 126.0 L336.8 123.4 L337.1 120.8 L337.5 118.1 L337.9 115.3 L338.3 112.5 L338.7 109.6 L339.1 106.7 L339.5 103.7 L339.9 100.6 L340.3 97.4 L340.7 94.2 L341.1 90.9 L341.4 87.5 L341.8 84.1 L342.2 80.5 L342.6 76.9 L343.0 73.2 L343.4 69.4 L343.8 65.5 L344.2 61.5 L344.6 57.4 L345.0 53.2 L345.4 48.8 L345.7 44.4 L346.1 39.8 L346.5 35.1 L346.8 31.5" fill="none" stroke="#13a813" stroke-width="1.7" stroke-linejoin="round"/>
<path d="M92.4 31.5 L92.9 36.4 L93.3 40.4 L93.7 44.3 L94.0 48.2 L94.4 52.0 L94.8 55.6 L95.2 59.2 L95.6 62.7 L96.0 66.2 L96.4 69.5 L96.8 72.8 L97.2 76.0 L97.6 79.2 L98.0 82.3 L98.3 85.3 L98.7 88.2 L99.1 91.1 L99.5 94.0 L99.9 96.7 L100.3 99.5 L100.7 102.1 L101.1 104.8 L101.5 107.3 L101.9 109.8 L102.3 112.3 L102.6 114.7 L103.0 117.1 L103.4 119.4 L103.8 121.7 L104.2 124.0 L104.6 126.2 L105.0 128.4 L105.4 130.5 L105.8 132.6 L106.2 134.6 L106.6 136.7 L106.9 138.6 L107.3 140.6 L107.7 142.5 L108.1 144.4 L108.5 146.2 L108.9 148.1 L109.3 149.8 L109.7 151.6 L110.1 153.3 L110.5 155.0 L110.9 156.7 L111.2 158.4 L111.6 160.0 L112.0 161.6 L112.4 163.2 L112.8 164.7 L113.2 166.2 L113.6 167.7 L114.0 169.2 L114.4 170.7 L114.8 172.1 L115.2 173.5 L115.5 174.9 L115.9 176.3 L116.3 177.6 L116.7 178.9 L117.1 180.2 L117.5 181.5 L117.9 182.8 L118.3 184.0 L118.7 185.3 L119.1 186.5 L119.5 187.7 L119.8 188.9 L120.2 190.0 L120.6 191.2 L121.4 193.4 L122.2 195.6 L123.0 197.8 L123.7 199.8 L124.5 201.8 L125.3 203.8 L126.1 205.7 L126.9 207.6 L127.7 209.4 L128.4 211.2 L129.2 212.9 L130.0 214.6 L130.8 216.2 L131.6 217.8 L132.3 219.3 L133.1 220.9 L133.9 222.3 L134.7 223.8 L135.5 225.2 L136.3 226.6 L137.0 228.0 L137.8 229.3 L138.6 230.6 L139.4 231.9 L140.2 233.2 L140.9 234.4 L141.7 235.6 L142.5 236.8 L143.3 237.9 L144.1 239.0 L144.9 240.1 L145.6 241.2 L146.4 242.2 L147.2 243.2 L148.0 244.2 L148.8 245.2 L149.5 246.2 L150.7 247.5 L151.9 248.8 L153.1 250.1 L154.2 251.3 L155.4 252.5 L156.6 253.7 L157.7 254.8 L158.9 255.8 L160.1 256.9 L161.3 257.9 L162.4 258.9 L163.6 259.8 L164.8 260.7 L166.0 261.6 L167.1 262.4 L168.3 263.2 L169.5 264.0 L170.6 264.8 L171.8 265.5 L173.0 266.2 L174.2 266.9 L175.3 267.6 L176.5 268.2 L177.7 268.8 L178.9 269.4 L180.0 270.0 L181.2 270.5 L182.4 271.0 L183.5 271.5 L184.7 271.9 L185.9 272.3 L187.1 272.7 L188.2 273.1 L189.4 273.5 L190.6 273.8 L191.8 274.2 L192.9 274.5 L194.1 274.8 L195.3 275.0 L196.4 275.3 L197.6 275.6 L198.8 275.9 L200.3 276.2 L201.9 276.5 L203.5 276.8 L205.0 277.0 L206.6 277.2 L208.2 277.4 L209.7 277.5 L211.3 277.7 L212.9 277.8 L214.4 277.8 L216.0 277.9 L217.5 277.9 L219.2 277.9 L220.8 277.8 L222.4 277.8 L224.0 277.7 L225.7 277.5 L227.3 277.4 L228.9 277.2 L230.5 277.0 L232.2 276.8 L233.8 276.5 L235.4 276.2 L237.0 275.9 L238.2 275.6 L239.4 275.3 L240.7 275.0 L241.9 274.7 L243.1 274.3 L244.3 274.0 L245.5 273.6 L246.7 273.1 L247.9 272.7 L249.1 272.2 L250.3 271.8 L251.6 271.3 L252.8 270.8 L254.0 270.2 L255.2 269.7 L256.4 269.1 L257.6 268.5 L258.8 267.9 L259.9 267.3 L261.1 266.7 L262.2 266.0 L263.4 265.3 L264.5 264.6 L265.7 263.9 L266.8 263.1 L267.9 262.3 L269.1 261.5 L270.2 260.7 L271.4 259.8 L272.5 258.9 L273.6 258.0 L274.8 257.0 L275.9 256.0 L277.0 254.9 L278.1 253.9 L279.3 252.8 L280.4 251.6 L281.5 250.4 L282.6 249.2 L283.7 247.9 L284.9 246.6 L286.0 245.3 L286.7 244.4 L287.5 243.4 L288.2 242.5 L289.0 241.5 L289.7 240.5 L290.4 239.5 L291.2 238.5 L291.9 237.4 L292.7 236.3 L293.5 235.2 L294.2 234.0 L295.0 232.9 L295.7 231.7 L296.5 230.4 L297.3 229.2 L298.1 227.9 L298.8 226.5 L299.6 225.2 L300.4 223.8 L301.2 222.3 L302.0 220.9 L302.8 219.3 L303.5 217.8 L304.3 216.2 L305.1 214.6 L305.9 212.9 L306.7 211.2 L307.4 209.4 L308.2 207.6 L309.0 205.7 L309.8 203.8 L310.6 201.8 L311.4 199.8 L312.1 197.8 L312.9 195.6 L313.7 193.4 L314.5 191.2 L314.9 190.0 L315.3 188.9 L315.6 187.7 L316.0 186.5 L316.4 185.3 L316.8 184.0 L317.2 182.8 L317.6 181.5 L318.0 180.2 L318.4 178.9 L318.8 177.6 L319.2 176.3 L319.6 174.9 L319.9 173.5 L320.3 172.1 L320.7 170.7 L321.1 169.2 L321.5 167.7 L321.9 166.2 L322.3 164.7 L322.7 163.2 L323.1 161.6 L323.5 160.0 L323.9 158.4 L324.2 156.7 L324.6 155.0 L325.0 153.3 L325.4 151.6 L325.8 149.8 L326.2 148.1 L326.6 146.2 L327.0 144.4 L327.4 142.5 L327.8 140.6 L328.2 138.6 L328.5 136.7 L328.9 134.6 L329.3 132.6 L329.7 130.5 L330.1 128.4 L330.5 126.2 L330.9 124.0 L331.3 121.7 L331.7 119.4 L332.1 117.1 L332.5 114.7 L332.8 112.3 L333.2 109.8 L333.6 107.3 L334.0 104.8 L334.4 102.1 L334.8 99.5 L335.2 96.7 L335.6 94.0 L336.0 91.1 L336.4 88.2 L336.8 85.3 L337.1 82.3 L337.5 79.2 L337.9 76.0 L338.3 72.8 L338.7 69.5 L339.1 66.2 L339.5 62.7 L339.9 59.2 L340.3 55.6 L340.7 52.0 L341.1 48.2 L341.4 44.3 L341.8 40.4 L342.2 36.4 L342.7 31.5" fill="none" stroke="#13a813" stroke-width="1.7" stroke-linejoin="round"/>
<path d="M83.6 31.5 L83.9 36.1 L84.3 41.5 L84.7 46.8 L85.1 51.9 L85.5 56.8 L85.8 61.6 L86.2 66.3 L86.6 70.8 L87.0 75.2 L87.4 79.4 L87.8 83.5 L88.2 87.5 L88.6 91.4 L89.0 95.2 L89.4 98.9 L89.7 102.5 L90.1 106.0 L90.5 109.4 L90.9 112.7 L91.3 115.9 L91.7 119.0 L92.1 122.1 L92.5 125.1 L92.9 128.0 L93.3 130.8 L93.7 133.6 L94.0 136.3 L94.4 138.9 L94.8 141.5 L95.2 144.0 L95.6 146.5 L96.0 148.9 L96.4 151.2 L96.8 153.5 L97.2 155.8 L97.6 158.0 L98.0 160.1 L98.3 162.2 L98.7 164.3 L99.1 166.3 L99.5 168.3 L99.9 170.2 L100.3 172.1 L100.7 174.0 L101.1 175.8 L101.5 177.6 L101.9 179.3 L102.3 181.0 L102.6 182.7 L103.0 184.3 L103.4 185.9 L103.8 187.5 L104.2 189.1 L104.6 190.6 L105.0 192.1 L105.4 193.5 L105.8 195.0 L106.2 196.3 L106.6 197.7 L106.9 199.0 L107.3 200.4 L107.7 201.6 L108.1 202.9 L108.5 204.2 L108.9 205.4 L109.3 206.6 L109.7 207.8 L110.1 208.9 L110.5 210.1 L110.9 211.2 L111.6 213.3 L112.4 215.5 L113.2 217.5 L114.0 219.5 L114.8 221.4 L115.5 223.2 L116.3 224.9 L117.1 226.6 L117.9 228.3 L118.7 229.9 L119.5 231.4 L120.2 232.9 L121.0 234.4 L121.8 235.8 L122.6 237.1 L123.4 238.5 L124.1 239.7 L124.9 241.0 L125.7 242.3 L126.5 243.5 L127.3 244.7 L128.0 245.9 L128.8 247.0 L129.6 248.1 L130.4 249.2 L131.2 250.3 L132.0 251.3 L132.7 252.3 L133.5 253.3 L134.3 254.2 L135.1 255.2 L135.9 256.1 L137.0 257.4 L138.2 258.7 L139.4 259.9 L140.6 261.1 L141.7 262.2 L142.9 263.3 L144.1 264.4 L145.2 265.4 L146.4 266.5 L147.6 267.6 L148.8 268.6 L149.9 269.6 L151.1 270.5 L152.3 271.5 L153.5 272.3 L154.6 273.2 L155.8 274.0 L157.0 274.8 L158.1 275.5 L159.3 276.2 L160.5 276.9 L161.7 277.6 L162.8 278.2 L164.0 278.8 L165.2 279.4 L166.3 280.0 L167.5 280.6 L168.7 281.1 L169.9 281.7 L171.0 282.2 L172.2 282.7 L173.4 283.2 L174.6 283.6 L175.7 284.1 L176.9 284.5 L178.1 284.9 L179.2 285.3 L180.4 285.7 L181.6 286.1 L182.8 286.5 L183.9 286.8 L185.1 287.2 L186.3 287.5 L187.5 287.8 L188.6 288.1 L190.2 288.5 L191.8 288.8 L193.3 289.2 L194.9 289.5 L196.4 289.8 L198.0 290.1 L199.6 290.3 L201.1 290.5 L202.7 290.7 L204.3 290.8 L205.8 291.0 L207.4 291.1 L208.9 291.2 L210.5 291.2 L212.1 291.3 L213.6 291.3 L215.2 291.4 L216.8 291.4 L217.5 291.4 L218.4 291.4 L220.0 291.4 L221.6 291.3 L223.2 291.3 L224.9 291.2 L226.5 291.2 L228.1 291.1 L229.7 291.0 L231.3 290.8 L233.0 290.7 L234.6 290.5 L236.2 290.3 L237.8 290.1 L239.5 289.8 L241.1 289.5 L242.7 289.2 L244.3 288.8 L245.9 288.5 L247.6 288.0 L248.8 287.7 L250.0 287.3 L251.2 286.9 L252.4 286.5 L253.6 286.1 L254.9 285.7 L256.1 285.3 L257.3 284.8 L258.5 284.4 L259.7 283.9 L260.9 283.4 L262.0 282.9 L263.2 282.5 L264.4 282.0 L265.6 281.5 L266.7 281.0 L267.9 280.4 L269.1 279.9 L270.3 279.3 L271.4 278.7 L272.6 278.1 L273.8 277.5 L274.9 276.9 L276.1 276.2 L277.3 275.5 L278.4 274.8 L279.6 274.1 L280.8 273.3 L281.9 272.5 L283.1 271.6 L284.2 270.8 L285.4 269.8 L286.5 268.9 L287.7 267.9 L288.8 266.9 L290.0 265.8 L291.1 264.7 L292.2 263.7 L293.4 262.7 L294.5 261.7 L295.6 260.6 L296.8 259.5 L297.9 258.3 L299.0 257.1 L300.1 255.8 L300.9 254.9 L301.6 254.0 L302.3 253.1 L303.1 252.2 L303.8 251.2 L304.6 250.2 L305.3 249.2 L306.0 248.1 L306.8 247.0 L307.5 245.9 L308.2 244.7 L309.0 243.5 L309.7 242.3 L310.4 241.0 L311.2 239.7 L311.9 238.5 L312.7 237.1 L313.4 235.8 L314.2 234.4 L314.9 232.9 L315.7 231.4 L316.4 229.9 L317.2 228.3 L318.0 226.6 L318.8 224.9 L319.6 223.2 L320.3 221.4 L321.1 219.5 L321.9 217.5 L322.7 215.5 L323.5 213.3 L324.2 211.2 L324.6 210.1 L325.0 208.9 L325.4 207.8 L325.8 206.6 L326.2 205.4 L326.6 204.2 L327.0 202.9 L327.4 201.6 L327.8 200.4 L328.2 199.0 L328.5 197.7 L328.9 196.3 L329.3 195.0 L329.7 193.5 L330.1 192.1 L330.5 190.6 L330.9 189.1 L331.3 187.5 L331.7 185.9 L332.1 184.3 L332.5 182.7 L332.8 181.0 L333.2 179.3 L333.6 177.6 L334.0 175.8 L334.4 174.0 L334.8 172.1 L335.2 170.2 L335.6 168.3 L336.0 166.3 L336.4 164.3 L336.8 162.2 L337.1 160.1 L337.5 158.0 L337.9 155.8 L338.3 153.5 L338.7 151.2 L339.1 148.9 L339.5 146.5 L339.9 144.0 L340.3 141.5 L340.7 138.9 L341.1 136.3 L341.4 133.6 L341.8 130.8 L342.2 128.0 L342.6 125.1 L343.0 122.1 L343.4 119.0 L343.8 115.9 L344.2 112.7 L344.6 109.4 L345.0 106.0 L345.4 102.5 L345.7 98.9 L346.1 95.2 L346.5 91.4 L346.9 87.5 L347.3 83.5 L347.7 79.4 L348.1 75.2 L348.5 70.8 L348.9 66.3 L349.3 61.6 L349.6 56.8 L350.0 51.9 L350.4 46.8 L350.8 41.5 L351.2 36.1 L351.5 31.5" fill="none" stroke="#f00000" stroke-width="1.6" stroke-dasharray="3.8 1.7"/>
<path d="M63.3 237.8 C63.5 240.7 64.0 249.6 64.4 255.0 C64.8 260.4 65.2 265.0 65.7 270.0 C66.2 275.0 66.8 280.3 67.5 285.0 C68.2 289.7 69.1 293.8 70.0 298.0 C70.9 302.2 71.8 306.4 73.1 310.1 C74.4 313.9 76.0 317.3 77.8 320.5 C79.6 323.7 81.9 327.0 83.7 329.2 C85.5 331.4 87.0 332.4 88.8 333.8 C90.6 335.2 92.5 336.4 94.3 337.6 C96.1 338.8 97.8 339.9 99.5 340.8 C101.2 341.8 103.1 342.5 104.8 343.3 C106.5 344.1 107.9 344.8 109.5 345.4 C111.1 346.0 113.5 346.8 114.3 347.1" fill="none" stroke="#0000f0" stroke-width="1.6" stroke-dasharray="4.2 1.3"/>
<path d="M373.3 178.7 C373.3 181.4 373.2 189.8 373.1 195.0 C373.0 200.2 372.6 205.0 372.4 210.0 C372.2 215.0 371.8 220.4 371.7 225.0 C371.6 229.6 372.0 232.8 371.8 237.8 C371.6 242.8 371.1 249.6 370.7 255.0 C370.3 260.4 369.9 265.0 369.4 270.0 C368.9 275.0 368.3 280.3 367.6 285.0 C366.9 289.7 366.0 293.8 365.1 298.0 C364.2 302.2 363.3 306.4 362.0 310.1 C360.7 313.9 359.1 317.3 357.3 320.5 C355.5 323.7 353.2 327.0 351.4 329.2 C349.6 331.4 348.1 332.4 346.3 333.8 C344.5 335.2 342.6 336.4 340.8 337.6 C339.0 338.8 337.4 339.9 335.6 340.8 C333.9 341.8 332.0 342.5 330.3 343.3 C328.6 344.1 327.2 344.8 325.6 345.4 C324.0 346.0 321.6 346.8 320.8 347.1" fill="none" stroke="#0000f0" stroke-width="1.6" stroke-dasharray="4.2 1.3"/>
<ellipse cx="63.6" cy="283.2" rx="1.5" ry="9.0" transform="rotate(-3.0 63.6 283.2)" fill="#13a813"/>
<ellipse cx="67.5" cy="314.4" rx="1.6" ry="6.4" transform="rotate(-5.0 67.5 314.4)" fill="#13a813"/>
<ellipse cx="72.0" cy="327.6" rx="1.4" ry="4.4" transform="rotate(-20.0 72.0 327.6)" fill="#13a813"/>
<path d="M71.7 324.6 L72.8 329.1 L74.5 332.4 L75.6 335.2 L77.3 338 L79.5 340.8 L82.3 344.2 L86.2 347.4 M73.9 331.3 L76.7 334.7 L78.4 337.5 L81.2 340.8 L84.6 344.2 L89.6 347.3" fill="none" stroke="#13a813" stroke-width="1.5" stroke-linejoin="round"/>
<ellipse cx="371.0" cy="282.7" rx="1.2" ry="9.5" transform="rotate(3.0 371.0 282.7)" fill="none" stroke="#13a813" stroke-width="1.4"/>
<ellipse cx="366.9" cy="314.9" rx="1.2" ry="7.2" transform="rotate(3.0 366.9 314.9)" fill="none" stroke="#13a813" stroke-width="1.4"/>
<ellipse cx="362.9" cy="328.0" rx="1.2" ry="5.0" transform="rotate(14.0 362.9 328.0)" fill="none" stroke="#13a813" stroke-width="1.4"/>
<path d="M360.6 331.4 L358.5 332.2 L357.7 334.4 L356.9 336.8 L354.9 337.6 L354.1 339.5 L352.2 340.7 L351.0 342.7 L349.0 343.9 L347.5 345.8 L345.5 346.4 L343.6 347.6 M364.6 330.5 L363.6 332.9 L361.6 336 L360.6 338 L359.2 339.9 L357.7 341.5 L356.1 343.1 L354.5 344.2 L353.0 345.8 L351.4 347.7" fill="none" stroke="#13a813" stroke-width="1.7" stroke-linejoin="round"/>
<rect x="53.1" y="25.5" width="328.4" height="328.9" fill="none" stroke="#a2a2a2" stroke-width="1.1"/>
<path d="M53.1 347.3 h1.8 M53.1 328.8 h3.2 M53.1 310.2 h1.8 M53.1 291.7 h1.8 M53.1 273.2 h1.8 M53.1 254.7 h3.2 M53.1 236.1 h1.8 M53.1 217.6 h1.8 M53.1 199.1 h1.8 M53.1 180.5 h3.2 M53.1 162.0 h1.8 M53.1 143.5 h1.8 M53.1 124.9 h1.8 M53.1 106.4 h3.2 M53.1 87.9 h1.8 M53.1 69.4 h1.8 M53.1 50.8 h1.8 M53.1 32.3 h3.2 M59.6 354.4 v-3.4 M138.6 354.4 v-3.4 M217.5 354.4 v-3.4 M296.5 354.4 v-3.4 M375.5 354.4 v-3.4" stroke="#777" stroke-width="0.7" fill="none"/>
<text x="50.7" y="333.1" font-size="17" text-anchor="end" fill="#111">200</text>
<text x="50.7" y="259.0" font-size="17" text-anchor="end" fill="#111">400</text>
<text x="50.7" y="184.8" font-size="17" text-anchor="end" fill="#111">600</text>
<text x="50.7" y="110.7" font-size="17" text-anchor="end" fill="#111">800</text>
<text x="50.7" y="36.6" font-size="17" text-anchor="end" fill="#111">1000</text>
<text x="59.6" y="370.9" font-size="15.5" text-anchor="middle" fill="#111">0</text>
<text x="138.6" y="363.9" font-size="13.8" text-anchor="middle" fill="#111">π</text><rect x="134.2" y="368.15" width="8.7" height="1.4" fill="#222"/><text x="138.6" y="381.0" font-size="13.8" text-anchor="middle" fill="#111">8</text>
<text x="216.8" y="363.9" font-size="13.8" text-anchor="middle" fill="#111">π</text><rect x="212.5" y="368.15" width="8.7" height="1.4" fill="#222"/><text x="216.8" y="381.0" font-size="13.8" text-anchor="middle" fill="#111">4</text>
<text x="296.5" y="365.5" font-size="13.8" text-anchor="middle" fill="#111">3π</text><rect x="292.1" y="369.85" width="8.7" height="1.4" fill="#222"/><text x="296.5" y="382.6" font-size="13.8" text-anchor="middle" fill="#111">8</text>
<text x="374.9" y="365.0" font-size="13.8" text-anchor="middle" fill="#111">π</text><rect x="370.5" y="369.25" width="8.7" height="1.4" fill="#222"/><text x="374.9" y="382.1" font-size="13.8" text-anchor="middle" fill="#111">2</text>
<text x="151.8" y="65.4" font-size="21.7" fill="#1a1010">Vacuum decay</text>
<text transform="translate(202.7,258.3) scale(1.1,1)" font-size="16" font-style="italic" fill="#111">δ</text>
<text transform="translate(211.0,258.3) scale(1.26,1)" font-size="16" font-style="italic" fill="#111">κ</text>
<text transform="translate(220.6,259.7) scale(1.2,1)" font-size="12" font-style="italic" fill="#111">γ</text>
<text transform="translate(230.7,258.3)" font-size="14.3" fill="#111">= 20 %</text>
<text x="253.0" y="279.8" font-size="14.3" fill="#111">15</text>
<text x="271.3" y="288.0" font-size="14.3" fill="#111">10</text>
<text x="294.0" y="298.5" font-size="14.3" fill="#111">5</text>
<text x="307.2" y="306.8" font-size="14.3" fill="#111">2</text>
<text x="322.4" y="316.7" font-size="14.3" fill="#111">0</text>
<text x="367.4" y="306.8" font-size="14.3" fill="#111">0</text>
<text transform="translate(147.5,15.8) scale(0.76,1)" font-size="22" font-weight="bold" font-style="italic" fill="#111" stroke="#111" stroke-width="0.5">m</text>
<text transform="translate(161.7,19.6)" font-size="17" font-weight="bold" font-style="italic" fill="#111">τ</text>
<path transform="translate(164.0,9.0)" d="M0 0.9 C2.3 -1.6 4.6 1.6 7.0 -0.9" fill="none" stroke="#111" stroke-width="1.2" stroke-linecap="round"/>
<text transform="translate(171.6,19.6) scale(0.78,1)" font-size="16" font-style="italic" fill="#111">1</text>
<text transform="translate(188.2,15.9)" font-size="22.8" font-weight="bold" fill="#111">= 90 GeV</text>
<text transform="translate(15.4,254.0) rotate(-90) scale(0.74,1)" font-size="22" font-weight="bold" font-style="italic" fill="#111" stroke="#111" stroke-width="0.5">m</text>
<text transform="translate(19.0,236.8) rotate(-90)" font-size="17" font-weight="bold" font-style="italic" fill="#111">τ</text>
<path transform="translate(15.4,254.0) rotate(-90) translate(18.2,-6.9)" d="M0 0.9 C2.2 -1.6 4.5 1.6 6.8 -0.9" fill="none" stroke="#111" stroke-width="1.2" stroke-linecap="round"/>
<text transform="translate(18.8,227.4) rotate(-90)" font-size="11.5" font-weight="bold" font-style="italic" fill="#111">2</text>
<text transform="translate(15.6,219.4) rotate(-90)" font-size="21.7" font-weight="bold" fill="#111">[GeV]</text>
<text transform="translate(204.6,399.4)" font-size="22" font-weight="bold" font-style="italic" fill="#111">θ</text>
<text transform="translate(216.8,401.2)" font-size="17" font-weight="bold" font-style="italic" fill="#111">τ</text>
<path transform="translate(217.8,391.3)" d="M0 0.9 C2.3 -1.6 4.6 1.6 7.0 -0.9" fill="none" stroke="#111" stroke-width="1.5" stroke-linecap="round"/>
</svg>
</body></html>
